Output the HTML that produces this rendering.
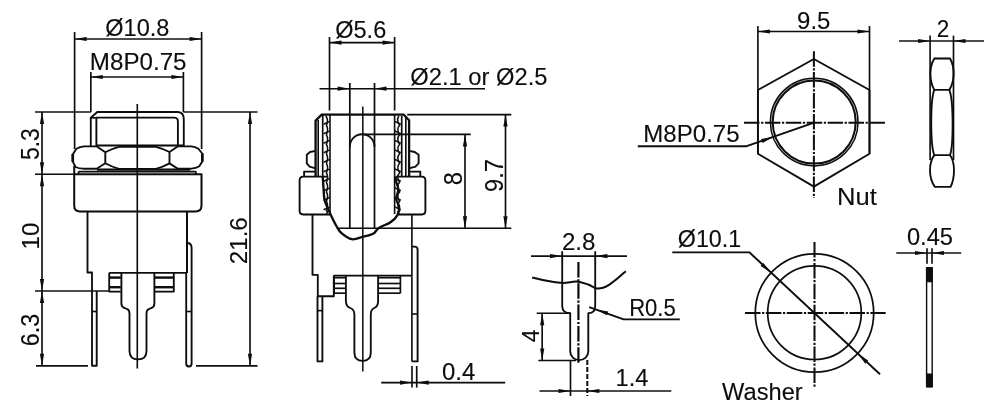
<!DOCTYPE html>
<html><head><meta charset="utf-8"><title>Drawing</title>
<style>
html,body{margin:0;padding:0;background:#fff;}
body{width:1000px;height:414px;overflow:hidden;}
svg{display:block;}
svg line,svg path,svg circle,svg rect,svg polyline{stroke:#0a0a0a;fill:none;stroke-linecap:butt;stroke-linejoin:round;}
svg text{font-family:"Liberation Sans",sans-serif;fill:#0a0a0a;stroke:#0a0a0a;stroke-width:0.4px;}
</style></head><body>
<svg width="1000" height="414" viewBox="0 0 1000 414">
<defs><filter id="soft" x="0" y="0" width="1000" height="414" filterUnits="userSpaceOnUse"><feGaussianBlur stdDeviation="0.45"/></filter></defs>
<rect x="0" y="0" width="1000" height="414" style="fill:#fff;stroke:none"/>
<g filter="url(#soft)">
<text transform="translate(105.29,35.50) scale(0.2355,0.2414)" font-size="100">Ø10.8</text>
<line x1="74.6" y1="32" x2="74.6" y2="149" stroke-width="1.65" />
<line x1="201.6" y1="32" x2="201.6" y2="149" stroke-width="1.65" />
<line x1="74.6" y1="39" x2="201.6" y2="39" stroke-width="1.65" />
<polygon points="74.6,39.0 86.6,36.9 86.6,41.1" fill="#0a0a0a" stroke="none"/>
<polygon points="201.6,39.0 189.6,41.1 189.6,36.9" fill="#0a0a0a" stroke="none"/>
<text transform="translate(89.87,70.10) scale(0.2416,0.2362)" font-size="100">M8P0.75</text>
<line x1="90.8" y1="72" x2="90.8" y2="112" stroke-width="1.65" />
<line x1="183.4" y1="72" x2="183.4" y2="112" stroke-width="1.65" />
<line x1="90.8" y1="77" x2="183.4" y2="77" stroke-width="1.65" />
<polygon points="90.8,77.0 102.8,74.9 102.8,79.1" fill="#0a0a0a" stroke="none"/>
<polygon points="183.4,77.0 171.4,79.1 171.4,74.9" fill="#0a0a0a" stroke="none"/>
<line x1="35" y1="112" x2="90.8" y2="112" stroke-width="1.65" />
<line x1="183.4" y1="112" x2="257.5" y2="112" stroke-width="1.65" />
<line x1="42" y1="112" x2="42" y2="365.8" stroke-width="1.65" />
<polygon points="42.0,112.0 44.1,124.0 39.9,124.0" fill="#0a0a0a" stroke="none"/>
<polygon points="42.0,174.2 39.9,162.2 44.1,162.2" fill="#0a0a0a" stroke="none"/>
<polygon points="42.0,174.2 44.1,186.2 39.9,186.2" fill="#0a0a0a" stroke="none"/>
<polygon points="42.0,291.0 39.9,279.0 44.1,279.0" fill="#0a0a0a" stroke="none"/>
<polygon points="42.0,291.0 44.1,303.0 39.9,303.0" fill="#0a0a0a" stroke="none"/>
<polygon points="42.0,365.8 39.9,353.8 44.1,353.8" fill="#0a0a0a" stroke="none"/>
<line x1="35" y1="174.2" x2="75" y2="174.2" stroke-width="1.65" />
<line x1="35" y1="291" x2="110" y2="291" stroke-width="1.65" />
<line x1="36" y1="365.8" x2="88" y2="365.8" stroke-width="1.65" />
<text transform="translate(38.70,160.02) rotate(-90) scale(0.2295,0.2543)" font-size="100">5.3</text>
<text transform="translate(39.40,249.39) rotate(-90) scale(0.2415,0.2479)" font-size="100">10</text>
<text transform="translate(38.70,346.27) rotate(-90) scale(0.2331,0.2543)" font-size="100">6.3</text>
<line x1="250" y1="112" x2="250" y2="365.8" stroke-width="1.65" />
<polygon points="250.0,112.0 252.1,124.0 247.9,124.0" fill="#0a0a0a" stroke="none"/>
<polygon points="250.0,365.8 247.9,353.8 252.1,353.8" fill="#0a0a0a" stroke="none"/>
<line x1="196" y1="365.8" x2="257.5" y2="365.8" stroke-width="1.65" />
<text transform="translate(246.80,264.36) rotate(-90) scale(0.2427,0.2471)" font-size="100">21.6</text>
<line x1="137.3" y1="104" x2="137.3" y2="368.5" stroke-width="1.6" />
<path d="M90.8,146 V117.8 L97.3,112 H178 Q183.8,112.3 183.8,119.5 V146" stroke-width="1.85" />
<line x1="91" y1="117.8" x2="96.6" y2="117.8" stroke-width="1.6" />
<path d="M96.4,146 V117.6 H174.5 Q177.9,117.8 177.9,121.5 V146" stroke-width="1.85" />
<path d="M72.7,154.5 L76.4,148.7 Q80,146.6 84.2,146.3 H96.5 L105.3,152.2 V163.3 L96.7,168.7 H83.2 Q79,168.6 75.5,167 L72.7,161.3 Z" stroke-width="1.85" />
<line x1="72.8" y1="154" x2="72.8" y2="161.8" stroke-width="2.6" />
<path d="M202.4,153.8 L198.4,148.7 Q195,146.6 191.4,146.3 H178 L169.5,152 V163.4 L177.9,168.7 H191.4 Q196,168.4 199.3,166.3 L202.4,161.3 Z" stroke-width="1.85" />
<line x1="202.3" y1="153.5" x2="202.3" y2="161.6" stroke-width="2.6" />
<path d="M105.3,152.2 Q112,148.6 119,146.8 H156 Q163,148.6 169.5,152" stroke-width="1.85" />
<path d="M105.3,163.3 Q112,167 119,168.8 H156 Q163,167 169.5,163.4" stroke-width="1.85" />
<line x1="97" y1="145.5" x2="184" y2="145.5" stroke-width="2.1" />
<line x1="97" y1="169.6" x2="190" y2="169.6" stroke-width="2.1" />
<line x1="78.5" y1="171.6" x2="196" y2="171.6" stroke-width="1.65" />
<line x1="78.5" y1="171.6" x2="78.5" y2="174.2" stroke-width="1.65" />
<line x1="196" y1="171.6" x2="196" y2="174.2" stroke-width="1.65" />
<path d="M74.2,166 V205.5 Q74.2,211.4 80,211.4 H195.5 Q201.5,211.4 201.5,205.5 V174.3 H74.2" stroke-width="2.0" />
<path d="M87.5,211.3 V272.5 H92 V365.7 H96.7 V291" stroke-width="1.85" />
<line x1="187" y1="211.3" x2="187" y2="273" stroke-width="2.0" />
<line x1="109.2" y1="272.8" x2="187" y2="272.8" stroke-width="1.65" />
<line x1="92" y1="311.5" x2="96.7" y2="311.5" stroke-width="1.6" />
<path d="M187,243 Q191.6,243 191.6,248 V363.5 Q191.6,366.5 189,366.5 Q186.2,366.5 186.2,363.5 V273" stroke-width="1.85" />
<line x1="186.2" y1="311.5" x2="191.6" y2="311.5" stroke-width="1.6" />
<path d="M109.2,272.8 V291.6 H120.8" stroke-width="1.85" />
<line x1="109.2" y1="277.6" x2="120.8" y2="277.6" stroke-width="2.4" />
<line x1="109.2" y1="287.2" x2="120.8" y2="287.2" stroke-width="2.4" />
<path d="M154.2,291.6 H173.8 V272.8" stroke-width="1.85" />
<line x1="154.2" y1="277.6" x2="173.8" y2="277.6" stroke-width="2.4" />
<line x1="154.2" y1="287.2" x2="173.8" y2="287.2" stroke-width="2.4" />
<path d="M121.4,272.8 V303.5 Q121.4,307 124.5,308 L127.3,309.2 Q129.5,310.3 129.5,313.5 V351 Q129.5,359.4 138,359.4 Q146.5,359.4 146.5,351 V313.5 Q146.5,310.3 148.7,309.2 L151.4,308 Q154.4,307 154.4,303.5 V272.8" stroke-width="1.85" />
<text transform="translate(335.19,37.90) scale(0.2355,0.2357)" font-size="100">Ø5.6</text>
<line x1="329.5" y1="37" x2="329.5" y2="110.5" stroke-width="1.65" />
<line x1="394.6" y1="37" x2="394.6" y2="110.5" stroke-width="1.65" />
<line x1="329.5" y1="42.6" x2="394.6" y2="42.6" stroke-width="1.65" />
<polygon points="329.5,42.6 341.5,40.5 341.5,44.7" fill="#0a0a0a" stroke="none"/>
<polygon points="394.6,42.6 382.6,44.7 382.6,40.5" fill="#0a0a0a" stroke="none"/>
<line x1="319.5" y1="88.7" x2="485" y2="88.7" stroke-width="1.65" />
<polygon points="349.7,88.7 337.7,90.8 337.7,86.6" fill="#0a0a0a" stroke="none"/>
<polygon points="374.5,88.7 386.5,86.6 386.5,90.8" fill="#0a0a0a" stroke="none"/>
<text transform="translate(410.29,84.50) scale(0.2375,0.2329)" font-size="100">Ø2.1 or Ø2.5</text>
<line x1="349.8" y1="83" x2="349.8" y2="228" stroke-width="1.7" />
<line x1="374.5" y1="83" x2="374.5" y2="228" stroke-width="1.7" />
<line x1="362.8" y1="106.5" x2="362.8" y2="371.5" stroke-width="1.5" />
<path d="M315.6,176.4 V120.6 L321.7,114.7 H403.8 L409.1,120.3 V176.4" stroke-width="2.3" />
<line x1="318.2" y1="120" x2="318.2" y2="176.4" stroke-width="1.6" />
<line x1="322.7" y1="114.7" x2="322.7" y2="176.4" stroke-width="1.65" />
<line x1="330" y1="114.7" x2="330" y2="214" stroke-width="1.6" />
<line x1="394.6" y1="114.7" x2="394.6" y2="214" stroke-width="1.6" />
<line x1="401.7" y1="116" x2="401.7" y2="176.4" stroke-width="1.65" />
<line x1="405.8" y1="118" x2="405.8" y2="176.4" stroke-width="1.6" />
<path d="M325.8,116 Q328.8,119.25 326.40000000000003,125.5 Q328.8,128.75 326.40000000000003,135.0 Q328.8,138.25 326.40000000000003,144.5 Q328.8,147.75 326.40000000000003,154.0 Q328.8,157.25 326.40000000000003,163.5 Q328.8,166.75 326.40000000000003,173.0 Q328.8,176.25 326.40000000000003,182.5 Q328.8,185.75 326.40000000000003,192.0 Q328.8,195.25 326.40000000000003,201.5 Q328.8,204.75 326.40000000000003,211.0 Q328.8,211.0 326.40000000000003,214" stroke-width="1.5" />
<path d="M399,116 Q396,119.25 399.6,125.5 Q396,128.75 399.6,135.0 Q396,138.25 399.6,144.5 Q396,147.75 399.6,154.0 Q396,157.25 399.6,163.5 Q396,166.75 399.6,173.0 Q396,176.25 399.6,182.5 Q396,185.75 399.6,192.0 Q396,195.25 399.6,201.5 Q396,204.75 399.6,211.0 Q396,211.0 399.6,214" stroke-width="1.5" />
<line x1="323.6" y1="124.2" x2="329.8" y2="121.4" stroke-width="1.5" />
<line x1="394.8" y1="121.4" x2="400.8" y2="124.2" stroke-width="1.5" />
<line x1="323.6" y1="133.7" x2="329.8" y2="130.9" stroke-width="1.5" />
<line x1="394.8" y1="130.9" x2="400.8" y2="133.7" stroke-width="1.5" />
<line x1="323.6" y1="143.2" x2="329.8" y2="140.4" stroke-width="1.5" />
<line x1="394.8" y1="140.4" x2="400.8" y2="143.2" stroke-width="1.5" />
<line x1="323.6" y1="152.7" x2="329.8" y2="149.9" stroke-width="1.5" />
<line x1="394.8" y1="149.9" x2="400.8" y2="152.7" stroke-width="1.5" />
<line x1="323.6" y1="162.2" x2="329.8" y2="159.4" stroke-width="1.5" />
<line x1="394.8" y1="159.4" x2="400.8" y2="162.2" stroke-width="1.5" />
<line x1="323.6" y1="171.7" x2="329.8" y2="168.9" stroke-width="1.5" />
<line x1="394.8" y1="168.9" x2="400.8" y2="171.7" stroke-width="1.5" />
<line x1="323.6" y1="181.2" x2="329.8" y2="178.4" stroke-width="1.5" />
<line x1="394.8" y1="178.4" x2="400.8" y2="181.2" stroke-width="1.5" />
<line x1="323.6" y1="190.7" x2="329.8" y2="187.9" stroke-width="1.5" />
<line x1="394.8" y1="187.9" x2="400.8" y2="190.7" stroke-width="1.5" />
<line x1="323.6" y1="200.2" x2="329.8" y2="197.4" stroke-width="1.5" />
<line x1="394.8" y1="197.4" x2="400.8" y2="200.2" stroke-width="1.5" />
<line x1="323.6" y1="209.7" x2="329.8" y2="206.9" stroke-width="1.5" />
<line x1="394.8" y1="206.9" x2="400.8" y2="209.7" stroke-width="1.5" />
<path d="M349.8,146.5 A12.35,12.2 0 0 1 374.5,146.5" stroke-width="1.85" />
<line x1="363.5" y1="134.4" x2="470.7" y2="134.4" stroke-width="1.65" />
<line x1="407.2" y1="114.6" x2="511.3" y2="114.6" stroke-width="1.65" />
<line x1="338.3" y1="228.2" x2="511.3" y2="228.2" stroke-width="1.65" />
<line x1="465" y1="134.4" x2="465" y2="228.2" stroke-width="1.65" />
<polygon points="465.0,134.4 467.1,146.4 462.9,146.4" fill="#0a0a0a" stroke="none"/>
<polygon points="465.0,228.2 462.9,216.2 467.1,216.2" fill="#0a0a0a" stroke="none"/>
<line x1="505.5" y1="114.6" x2="505.5" y2="228.2" stroke-width="1.65" />
<polygon points="505.5,114.6 507.6,126.6 503.4,126.6" fill="#0a0a0a" stroke="none"/>
<polygon points="505.5,228.2 503.4,216.2 507.6,216.2" fill="#0a0a0a" stroke="none"/>
<text transform="translate(462.00,185.35) rotate(-90) scale(0.2375,0.2529)" font-size="100">8</text>
<text transform="translate(502.50,191.94) rotate(-90) scale(0.2354,0.2500)" font-size="100">9.7</text>
<path d="M315.6,150.9 L310,152 L306.8,154.7 V163.4 L309.6,166.6 L315.6,168.3" stroke-width="1.85" />
<path d="M409.1,150.9 L414.7,152 L418.6,154.7 V163.4 L415.5,166.6 L409.1,168.3" stroke-width="1.85" />
<path d="M315.6,171.6 H304.1 V176.4" stroke-width="1.85" />
<path d="M409.1,171.6 H420.3 V176.4" stroke-width="1.85" />
<path d="M327.7,176.6 H303.2 Q299.6,176.6 299.6,180.2 V210.8 Q299.6,214.5 303.2,214.5 H330" stroke-width="1.85" />
<path d="M396.3,176.6 H421.8 Q425.4,176.6 425.4,180.2 V210.8 Q425.4,214.5 421.8,214.5 H397.3" stroke-width="1.85" />
<path d="M322.7,176.4 C322.9,178.6 323.2,185.2 323.6,189.3 C324.0,193.4 323.6,196.8 324.8,201.0 C326.0,205.2 328.7,210.3 330.6,214.5 C332.5,218.7 334.6,222.9 336.4,226.0 C338.2,229.1 338.6,230.6 341.2,232.8 C343.8,235.0 348.3,238.5 351.9,239.2 C355.4,239.9 359.0,237.8 362.5,236.9 C366.0,236.0 370.4,235.3 373.1,233.8 C375.8,232.3 376.0,229.9 378.9,228.0 C381.8,226.1 387.4,224.3 390.5,222.2 C393.6,220.1 395.9,218.0 397.3,215.4 C398.8,212.8 399.4,209.4 399.2,206.7 C399.0,204.0 396.3,201.9 396.2,199.0 C396.1,196.1 398.4,192.5 398.3,189.3 C398.2,186.1 395.9,181.8 395.6,179.7 C395.3,177.5 396.2,176.9 396.3,176.4" stroke-width="2.3" />
<path d="M312.5,214.5 V274.8 H317.8 V296.2 H333.8 V275.6" stroke-width="1.85" />
<line x1="411.9" y1="214.5" x2="411.9" y2="361.4" stroke-width="1.65" />
<line x1="333.8" y1="275.6" x2="411.9" y2="275.6" stroke-width="1.65" />
<path d="M411.9,246.6 H414.8 Q417.6,246.6 417.6,249.6 V361.4 H411.9" stroke-width="1.85" />
<line x1="411.9" y1="314" x2="417.6" y2="314" stroke-width="1.6" />
<path d="M317.5,296.2 V361.4 H322.4 V296.2" stroke-width="1.85" />
<line x1="317.5" y1="310.6" x2="322.4" y2="310.6" stroke-width="1.6" />
<line x1="334.2" y1="277.7" x2="345.6" y2="277.7" stroke-width="1.65" />
<line x1="378.1" y1="277.7" x2="400.4" y2="277.7" stroke-width="1.65" />
<line x1="334.2" y1="283.5" x2="345.6" y2="283.5" stroke-width="1.65" />
<line x1="378.1" y1="283.5" x2="400.4" y2="283.5" stroke-width="1.65" />
<line x1="334.2" y1="288.3" x2="345.6" y2="288.3" stroke-width="1.65" />
<line x1="378.1" y1="288.3" x2="400.4" y2="288.3" stroke-width="1.65" />
<line x1="334.2" y1="293.2" x2="345.6" y2="293.2" stroke-width="1.65" />
<line x1="378.1" y1="293.2" x2="400.4" y2="293.2" stroke-width="1.65" />
<line x1="400.4" y1="275.6" x2="400.4" y2="293.2" stroke-width="1.65" />
<line x1="334.2" y1="275.6" x2="334.2" y2="293.2" stroke-width="1.65" />
<path d="M345.9,275.6 V301 Q345.9,306.5 350.2,308 Q354.4,309.5 354.4,314.5 V352.6 Q354.4,360.9 362.6,360.9 Q370.8,360.9 370.8,352.6 V314.5 Q370.8,309.5 374.3,308 Q378.1,306.5 378.1,301 V275.6" stroke-width="1.85" />
<line x1="381.2" y1="382.6" x2="505.2" y2="382.6" stroke-width="1.65" />
<line x1="412" y1="366" x2="412" y2="387.6" stroke-width="1.65" />
<line x1="416.7" y1="366" x2="416.7" y2="387.6" stroke-width="1.65" />
<polygon points="412.0,382.6 400.0,384.7 400.0,380.5" fill="#0a0a0a" stroke="none"/>
<polygon points="416.7,382.6 428.7,380.5 428.7,384.7" fill="#0a0a0a" stroke="none"/>
<text transform="translate(441.88,379.75) scale(0.2399,0.2407)" font-size="100">0.4</text>
<text transform="translate(561.89,249.75) scale(0.2416,0.2379)" font-size="100">2.8</text>
<line x1="531" y1="256.1" x2="627" y2="256.1" stroke-width="1.65" />
<polygon points="562.0,256.1 550.0,258.2 550.0,254.0" fill="#0a0a0a" stroke="none"/>
<polygon points="595.4,256.1 607.4,254.0 607.4,258.2" fill="#0a0a0a" stroke="none"/>
<line x1="578.4" y1="262" x2="578.4" y2="364.6" stroke-width="2.2" stroke-dasharray="15.5 1.8 2.2 1.8"/>
<path d="M532.2,277.5 C534.8,278.1 542.9,280.1 548.0,281.0 C553.1,281.9 558.2,282.9 563.0,283.0 C567.8,283.1 572.4,281.2 576.6,281.5 C580.8,281.8 584.7,283.4 588.0,284.5 C591.3,285.6 594.0,287.8 596.5,288.4 C599.0,288.9 600.9,288.4 603.0,287.8 C605.1,287.2 606.5,286.4 609.0,284.8 C611.5,283.2 615.2,280.3 618.0,278.0 C620.8,275.7 624.5,272.3 625.8,271.2" stroke-width="2.0" />
<path d="M562.2,251.3 V306 Q562.4,313.2 570.2,313.2 V351.5 A9.05,8.6 0 0 0 588.3,351.5 V313.2 Q595.2,313.2 595.2,306 V251.3" stroke-width="1.85" />
<line x1="536.7" y1="313.2" x2="570.2" y2="313.2" stroke-width="1.65" />
<line x1="538.4" y1="360.5" x2="576" y2="360.5" stroke-width="1.65" />
<line x1="542.2" y1="313.2" x2="542.2" y2="360.5" stroke-width="1.65" />
<polygon points="542.2,313.2 544.3,325.2 540.1,325.2" fill="#0a0a0a" stroke="none"/>
<polygon points="542.2,360.5 540.1,348.5 544.3,348.5" fill="#0a0a0a" stroke="none"/>
<text transform="translate(538.75,342.31) rotate(-90) scale(0.2294,0.2314)" font-size="100">4</text>
<text transform="translate(629.13,316.10) scale(0.2209,0.2379)" font-size="100">R0.5</text>
<path d="M679.8,319.3 H623.7 L589.2,307.2" stroke-width="1.85" />
<polygon points="596.3,309.4 608.3,311.4 606.9,315.3" fill="#0a0a0a" stroke="none"/>
<line x1="539.5" y1="391" x2="671.3" y2="391" stroke-width="1.65" />
<line x1="570.5" y1="360" x2="570.5" y2="396" stroke-width="1.65" />
<line x1="587.3" y1="360" x2="587.3" y2="396" stroke-width="2.0" stroke-dasharray="5 2"/>
<polygon points="570.5,391.0 558.5,393.1 558.5,388.9" fill="#0a0a0a" stroke="none"/>
<polygon points="587.3,391.0 599.3,388.9 599.3,393.1" fill="#0a0a0a" stroke="none"/>
<text transform="translate(615.49,385.80) scale(0.2365,0.2400)" font-size="100">1.4</text>
<text transform="translate(797.09,28.80) scale(0.2397,0.2350)" font-size="100">9.5</text>
<line x1="757.9" y1="26" x2="757.9" y2="153.5" stroke-width="1.65" />
<line x1="869.5" y1="26" x2="869.5" y2="153.5" stroke-width="1.65" />
<line x1="757.9" y1="31.5" x2="869.5" y2="31.5" stroke-width="1.65" />
<polygon points="757.9,31.5 769.9,29.4 769.9,33.6" fill="#0a0a0a" stroke="none"/>
<polygon points="869.5,31.5 857.5,33.6 857.5,29.4" fill="#0a0a0a" stroke="none"/>
<path d="M813.9,59 L869.5,90 V153.7 L813.9,186.6 L757.9,153.7 V90 Z" stroke-width="1.85" />
<circle cx="814.2" cy="122.1" r="43.8" stroke-width="1.5" />
<circle cx="814.2" cy="122.1" r="41.5" stroke-width="2.0" />
<line x1="813.9" y1="51.2" x2="813.9" y2="198" stroke-width="2.0" stroke-dasharray="15.5 1.6 2.2 1.6"/>
<line x1="744" y1="122.7" x2="885.7" y2="122.7" stroke-width="2.0" stroke-dasharray="15.5 1.6 2.2 1.6"/>
<text transform="translate(643.27,141.65) scale(0.2408,0.2384)" font-size="100">M8P0.75</text>
<path d="M637.8,146.2 H746.7 L813.4,122.9" stroke-width="1.85" />
<polygon points="773.2,137.0 762.5,142.9 761.2,138.9" fill="#0a0a0a" stroke="none"/>
<text transform="translate(836.95,204.80) scale(0.2557,0.2384)" font-size="100">Nut</text>
<text transform="translate(936.67,36.55) scale(0.2250,0.2379)" font-size="100">2</text>
<line x1="899" y1="41" x2="984" y2="41" stroke-width="1.65" />
<line x1="930.1" y1="35.6" x2="930.1" y2="160" stroke-width="1.65" />
<line x1="953.5" y1="35.6" x2="953.5" y2="160" stroke-width="1.65" />
<polygon points="930.1,41.0 918.1,43.1 918.1,38.9" fill="#0a0a0a" stroke="none"/>
<polygon points="953.5,41.0 965.5,38.9 965.5,43.1" fill="#0a0a0a" stroke="none"/>
<path d="M934.3,58.5 H950 Q953.8,65 953.6,74 Q953.6,83 949.3,89.9 H934.3 Q930.4,83 930.4,74 Q930.4,65 934.3,58.5 Z" stroke-width="1.85" />
<path d="M934.3,89.9 C930.2,100 930.2,145 934.3,155.1 H950 C953.6,145 953.6,100 949.3,89.9" stroke-width="1.85" />
<path d="M934.3,155.1 Q930,161 930,170 Q930,180 934.9,186.9 H950.6 Q954,180 954,170 Q954,161 950,155.1" stroke-width="1.85" />
<circle cx="814.5" cy="313" r="59.2" stroke-width="1.7" />
<circle cx="814.5" cy="312.7" r="46.8" stroke-width="1.7" />
<line x1="814.5" y1="242" x2="814.5" y2="388" stroke-width="2.0" stroke-dasharray="15.5 1.6 2.2 1.6"/>
<line x1="745" y1="313" x2="885.7" y2="313" stroke-width="2.0" stroke-dasharray="15.5 1.6 2.2 1.6"/>
<text transform="translate(677.80,247.20) scale(0.2328,0.2379)" font-size="100">Ø10.1</text>
<path d="M672.3,252.3 H749.3 L880,374.3" stroke-width="1.85" />
<polygon points="770.8,272.6 760.6,266.0 763.4,262.9" fill="#0a0a0a" stroke="none"/>
<polygon points="858.0,354.0 868.2,360.6 865.4,363.7" fill="#0a0a0a" stroke="none"/>
<text transform="translate(722.10,399.75) scale(0.2365,0.2370)" font-size="100">Washer</text>
<text transform="translate(906.89,245.20) scale(0.2370,0.2379)" font-size="100">0.45</text>
<line x1="896.3" y1="253" x2="961.2" y2="253" stroke-width="1.65" />
<line x1="927" y1="248.2" x2="927" y2="263.8" stroke-width="1.65" />
<line x1="932" y1="248.2" x2="932" y2="263.8" stroke-width="1.65" />
<polygon points="927.0,253.0 915.0,255.1 915.0,250.9" fill="#0a0a0a" stroke="none"/>
<polygon points="932.0,253.0 944.0,250.9 944.0,255.1" fill="#0a0a0a" stroke="none"/>
<rect x="926.6" y="267.8" width="5.6" height="118.9" stroke-width="1.4"/>
<rect x="926.6" y="267.8" width="5.6" height="14" style="fill:#0a0a0a"/>
<rect x="926.6" y="374" width="5.6" height="12.7" style="fill:#0a0a0a"/>
</g>
</svg>
</body></html>
